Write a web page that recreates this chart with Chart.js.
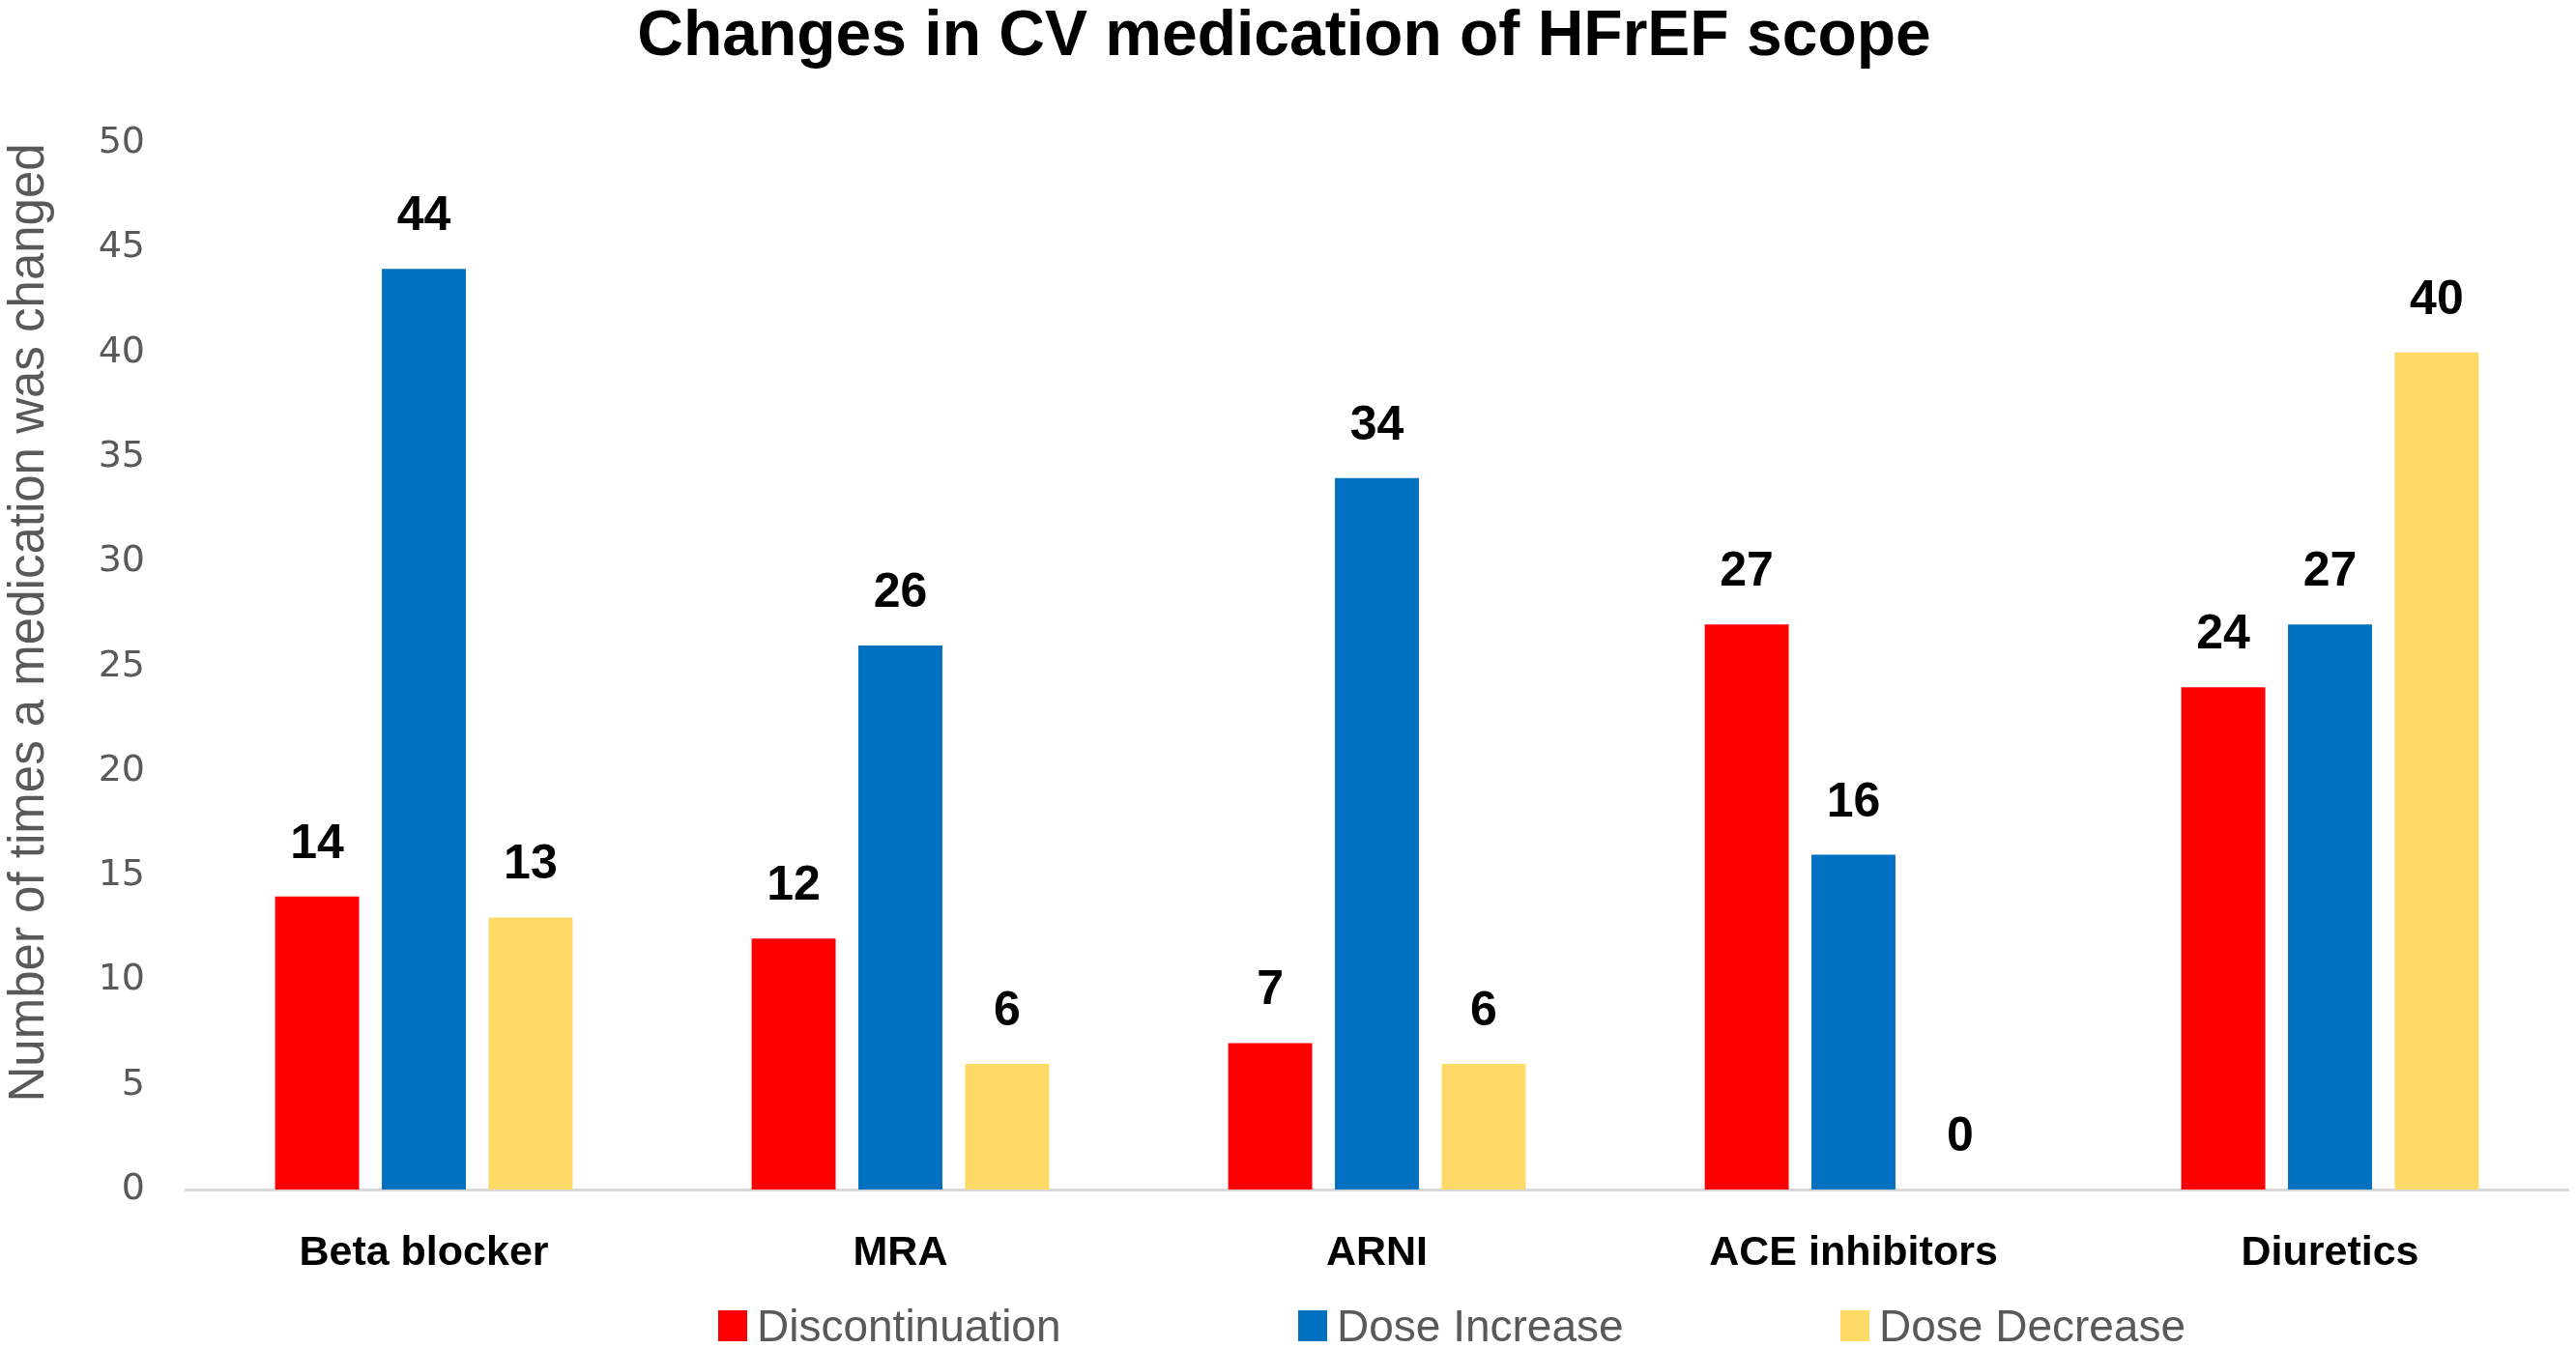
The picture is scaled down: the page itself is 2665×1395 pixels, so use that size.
<!DOCTYPE html>
<html>
<head>
<meta charset="utf-8">
<script src="https://cdn.jsdelivr.net/npm/chart.js@4/dist/chart.umd.min.js"></script>
<style>
  body { margin: 0; background: #fff; }
  #wrap { position: relative; width: 2665px; height: 1395px; }
  .leg { position: absolute; top: 1345px; display: flex; align-items: center;
         font-family: "Liberation Sans", Arial, sans-serif; font-size: 46px; color: #595959; }
  .leg span.box { display: inline-block; width: 30px; height: 32px; margin-right: 10px; }
</style>
</head>
<body>
<div id="wrap">
  <canvas id="chart" width="2665" height="1395"></canvas>
  <div class="leg" style="left:743px"><span class="box" style="background:#FF0000"></span>Discontinuation</div>
  <div class="leg" style="left:1343px"><span class="box" style="background:#0070C0"></span>Dose Increase</div>
  <div class="leg" style="left:1904px"><span class="box" style="background:#FFD966"></span>Dose Decrease</div>
</div>
<script>
const categories = ["Beta blocker", "MRA", "ARNI", "ACE inhibitors", "Diuretics"];
const discontinuation = [14, 12, 7, 27, 24];
const doseIncrease = [44, 26, 34, 16, 27];
const doseDecrease = [13, 6, 6, 0, 40];
const yTicks = { min: 0, max: 50, step: 5 };

// value labels above bars
const barLabels = {
    id: "barLabels",
    afterDatasetsDraw(chart) {
        const ctx = chart.ctx;
        ctx.save();
        ctx.font = "bold 50px 'Liberation Sans', Arial, sans-serif";
        ctx.fillStyle = "#000";
        ctx.textAlign = "center";
        ctx.textBaseline = "alphabetic";
        chart.data.datasets.forEach((ds, i) => {
            chart.getDatasetMeta(i).data.forEach((bar, j) => {
                ctx.fillText(String(ds.data[j]), bar.x, bar.y - 40);
            });
        });
        ctx.restore();
    }
};

new Chart(document.getElementById("chart"), {
    type: "bar",
    data: {
        labels: categories,
        datasets: [
            { label: "Discontinuation", data: discontinuation, backgroundColor: "#FF0000" },
            { label: "Dose Increase", data: doseIncrease, backgroundColor: "#0070C0" },
            { label: "Dose Decrease", data: doseDecrease, backgroundColor: "#FFD966" }
        ]
    },
    options: {
        responsive: false,
        animation: false,
        devicePixelRatio: 1,
        categoryPercentage: 0.672,
        barPercentage: 0.787,
        layout: { padding: { top: 0, right: 8, bottom: 0, left: 0 } },
        plugins: {
            legend: { display: false },
            tooltip: { enabled: false },
            title: {
                display: true,
                text: "Changes in CV medication of HFrEF scope",
                color: "#000",
                font: { family: "'Liberation Sans', Arial, sans-serif", size: 66, weight: "bold", lineHeight: 1.05 },
                padding: { top: 4, bottom: 75 }
            }
        },
        scales: {
            x: {
                grid: { display: false },
                border: { display: true, color: "#D9D9D9", width: 3 },
                ticks: {
                    color: "#000",
                    font: { family: "'Liberation Sans', Arial, sans-serif", size: 43, weight: "bold" },
                    padding: 32,
                    maxRotation: 0,
                    autoSkip: false
                },
                afterFit(scale) { scale.height = 164; }
            },
            y: {
                min: yTicks.min,
                max: yTicks.max,
                grid: { display: false, drawTicks: false },
                border: { display: false },
                ticks: {
                    stepSize: yTicks.step,
                    color: "#595959",
                    font: { family: "'DejaVu Sans', Verdana, sans-serif", size: 38 },
                    padding: 42
                },
                title: {
                    display: true,
                    text: "Number of times a medication was changed",
                    align: "end",
                    color: "#595959",
                    font: { family: "'Liberation Sans', Arial, sans-serif", size: 51 },
                    padding: 0
                },
                afterFit(scale) { scale.width = 192; }
            }
        }
    },
    plugins: [barLabels]
});
</script>
</body>
</html>
